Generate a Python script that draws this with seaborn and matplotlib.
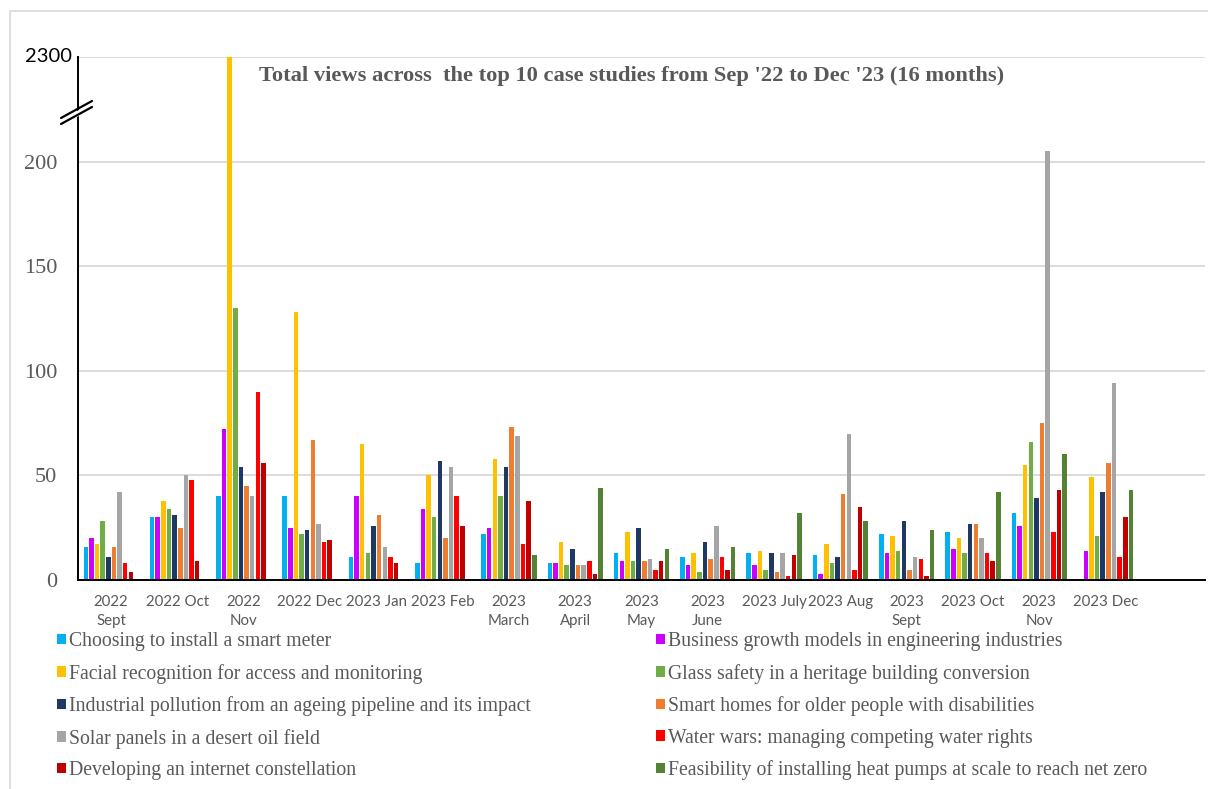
import matplotlib
matplotlib.use("Agg")
import matplotlib.pyplot as plt
import seaborn as sns
import pandas as pd
from matplotlib.patches import Patch, Rectangle, Polygon
from matplotlib.lines import Line2D

# month labels (x axis)
months = ["2022\nSept", "2022 Oct", "2022\nNov", "2022 Dec", "2023 Jan", "2023 Feb",
          "2023\nMarch", "2023\nApril", "2023\nMay", "2023\nJune", "2023 July",
          "2023 Aug", "2023\nSept", "2023 Oct", "2023\nNov", "2023 Dec"]

case_studies = [
    "Choosing to install a smart meter",
    "Business growth models in engineering industries",
    "Facial recognition for access and monitoring",
    "Glass safety in a heritage building conversion",
    "Industrial pollution from an ageing pipeline and its impact",
    "Smart homes for older people with disabilities",
    "Solar panels in a desert oil field",
    "Water wars: managing competing water rights",
    "Developing an internet constellation",
    "Feasibility of installing heat pumps at scale to reach net zero",
]

colors = ["#00B0F0", "#CC00FF", "#FFC000", "#70AD47", "#203864",
          "#ED7D31", "#A5A5A5", "#FF0000", "#C00000", "#548235"]

# views per month
smart_meter = [16, 30, 40, 40, 11, 8, 22, 8, 13, 11, 13, 12, 22, 23, 32, 0]
business_growth = [20, 30, 72, 25, 40, 34, 25, 8, 9, 7, 7, 3, 13, 15, 26, 14]
facial_recognition = [17, 38, 2300, 128, 65, 50, 58, 18, 23, 13, 14, 17, 21, 20, 55, 49]
glass_safety = [28, 34, 130, 22, 13, 30, 40, 7, 9, 4, 5, 8, 14, 13, 66, 21]
industrial_pollution = [11, 31, 54, 24, 26, 57, 54, 15, 25, 18, 13, 11, 28, 27, 39, 42]
smart_homes = [16, 25, 45, 67, 31, 20, 73, 7, 9, 10, 4, 41, 5, 27, 75, 56]
solar_panels = [42, 50, 40, 27, 16, 54, 69, 7, 10, 26, 13, 70, 11, 20, 205, 94]
water_wars = [8, 48, 90, 18, 11, 40, 17, 9, 5, 11, 2, 5, 10, 13, 23, 11]
internet_constellation = [4, 9, 56, 19, 8, 26, 38, 3, 9, 5, 12, 35, 2, 9, 43, 30]
heat_pumps = [0, 0, 0, 0, 0, 0, 12, 44, 15, 16, 32, 28, 24, 42, 60, 43]

series = [smart_meter, business_growth, facial_recognition, glass_safety,
          industrial_pollution, smart_homes, solar_panels, water_wars,
          internet_constellation, heat_pumps]

rows = []
for name, vals in zip(case_studies, series):
    for m, v in zip(months, vals):
        rows.append({"month": m, "case": name, "views": v})
df = pd.DataFrame(rows)

sns.set_style("white")
plt.rcParams["font.family"] = ["Liberation Serif", "DejaVu Serif"]

grey_txt = "#595959"

fig = plt.figure(figsize=(12.08, 7.89), dpi=100)
ax = fig.add_axes([78 / 1208, 1 - 580 / 789, 1127 / 1208, 523 / 789])

sns.barplot(data=df, x="month", y="views", hue="case", order=months,
            hue_order=case_studies, palette=colors, saturation=1,
            width=0.85, gap=0.2, errorbar=None, linewidth=0, legend=False, ax=ax)

ax.set_xlim(-0.5, 16.5)
ax.set_ylim(0, 250)
ax.set_xlabel("")
ax.set_ylabel("")

# broken y axis: top tick stands for 2300
ax.set_yticks([0, 50, 100, 150, 200, 250])
ax.set_yticklabels(["0", "50", "100", "150", "200", ""])
ax.tick_params(axis="y", length=0, pad=15, labelsize=16, labelcolor=grey_txt)
ax.tick_params(axis="x", length=0, pad=11, labelsize=10.8, labelcolor=grey_txt)
for lab in ax.get_xticklabels():
    lab.set_fontfamily(["Lato", "DejaVu Sans"])
    lab.set_linespacing(1.45)
ax.annotate("2300", xy=(0, 250), xycoords=("axes fraction", "data"),
            xytext=(-4, 0), textcoords="offset points", ha="right", va="center",
            fontsize=14.5, family=["Lato", "DejaVu Sans"], color="black")

ax.yaxis.grid(True, color="#D9D9D9", linewidth=1.3)
ax.set_axisbelow(True)
for s in ["top", "right"]:
    ax.spines[s].set_visible(False)
ax.spines["left"].set_color("black")
ax.spines["left"].set_linewidth(1.4)
ax.spines["bottom"].set_color("black")
ax.spines["bottom"].set_linewidth(1.4)

# break marks on the y axis
def fx(px):
    return px / 1208

def fy(py):
    return 1 - py / 789

fig.add_artist(Polygon([(fx(70), fy(115)), (fx(86), fy(106)),
                        (fx(86), fy(112)), (fx(70), fy(121))],
                       closed=True, facecolor="white", edgecolor="none",
                       transform=fig.transFigure, zorder=5))
for dy in (0, 6):
    fig.add_artist(Line2D([fx(61), fx(92)], [fy(118 + dy), fy(101 + dy)],
                          color="black", linewidth=1.6,
                          transform=fig.transFigure, zorder=6))

ax.text(0.4916, 0.9637,
        "Total views across  the top 10 case studies from Sep '22 to Dec '23 (16 months)",
        transform=ax.transAxes, ha="center", va="center", fontsize=16.2,
        fontweight="bold", color=grey_txt)

# legend in two columns, filled row by row
handles = [Patch(facecolor=c, edgecolor="none", label=n)
           for c, n in zip(colors, case_studies)]
leg_kw = dict(frameon=False, fontsize=14.2, handlelength=0.45, handleheight=0.45,
              handletextpad=0.15, labelspacing=0.64, labelcolor=grey_txt,
              borderaxespad=0, borderpad=0)
leg1 = fig.legend(handles=handles[0::2], loc="upper left",
                  bbox_to_anchor=(fx(57), fy(632)), **leg_kw)
leg2 = fig.legend(handles=handles[1::2], loc="upper left",
                  bbox_to_anchor=(fx(656), fy(632)), **leg_kw)

# outer chart frame
fig.add_artist(Rectangle((fx(10), fy(800)), 1.2, fy(11) - fy(800),
                         transform=fig.transFigure, fill=False,
                         edgecolor="#D9D9D9", linewidth=1.2))

fig.savefig("out.png", dpi=100)
